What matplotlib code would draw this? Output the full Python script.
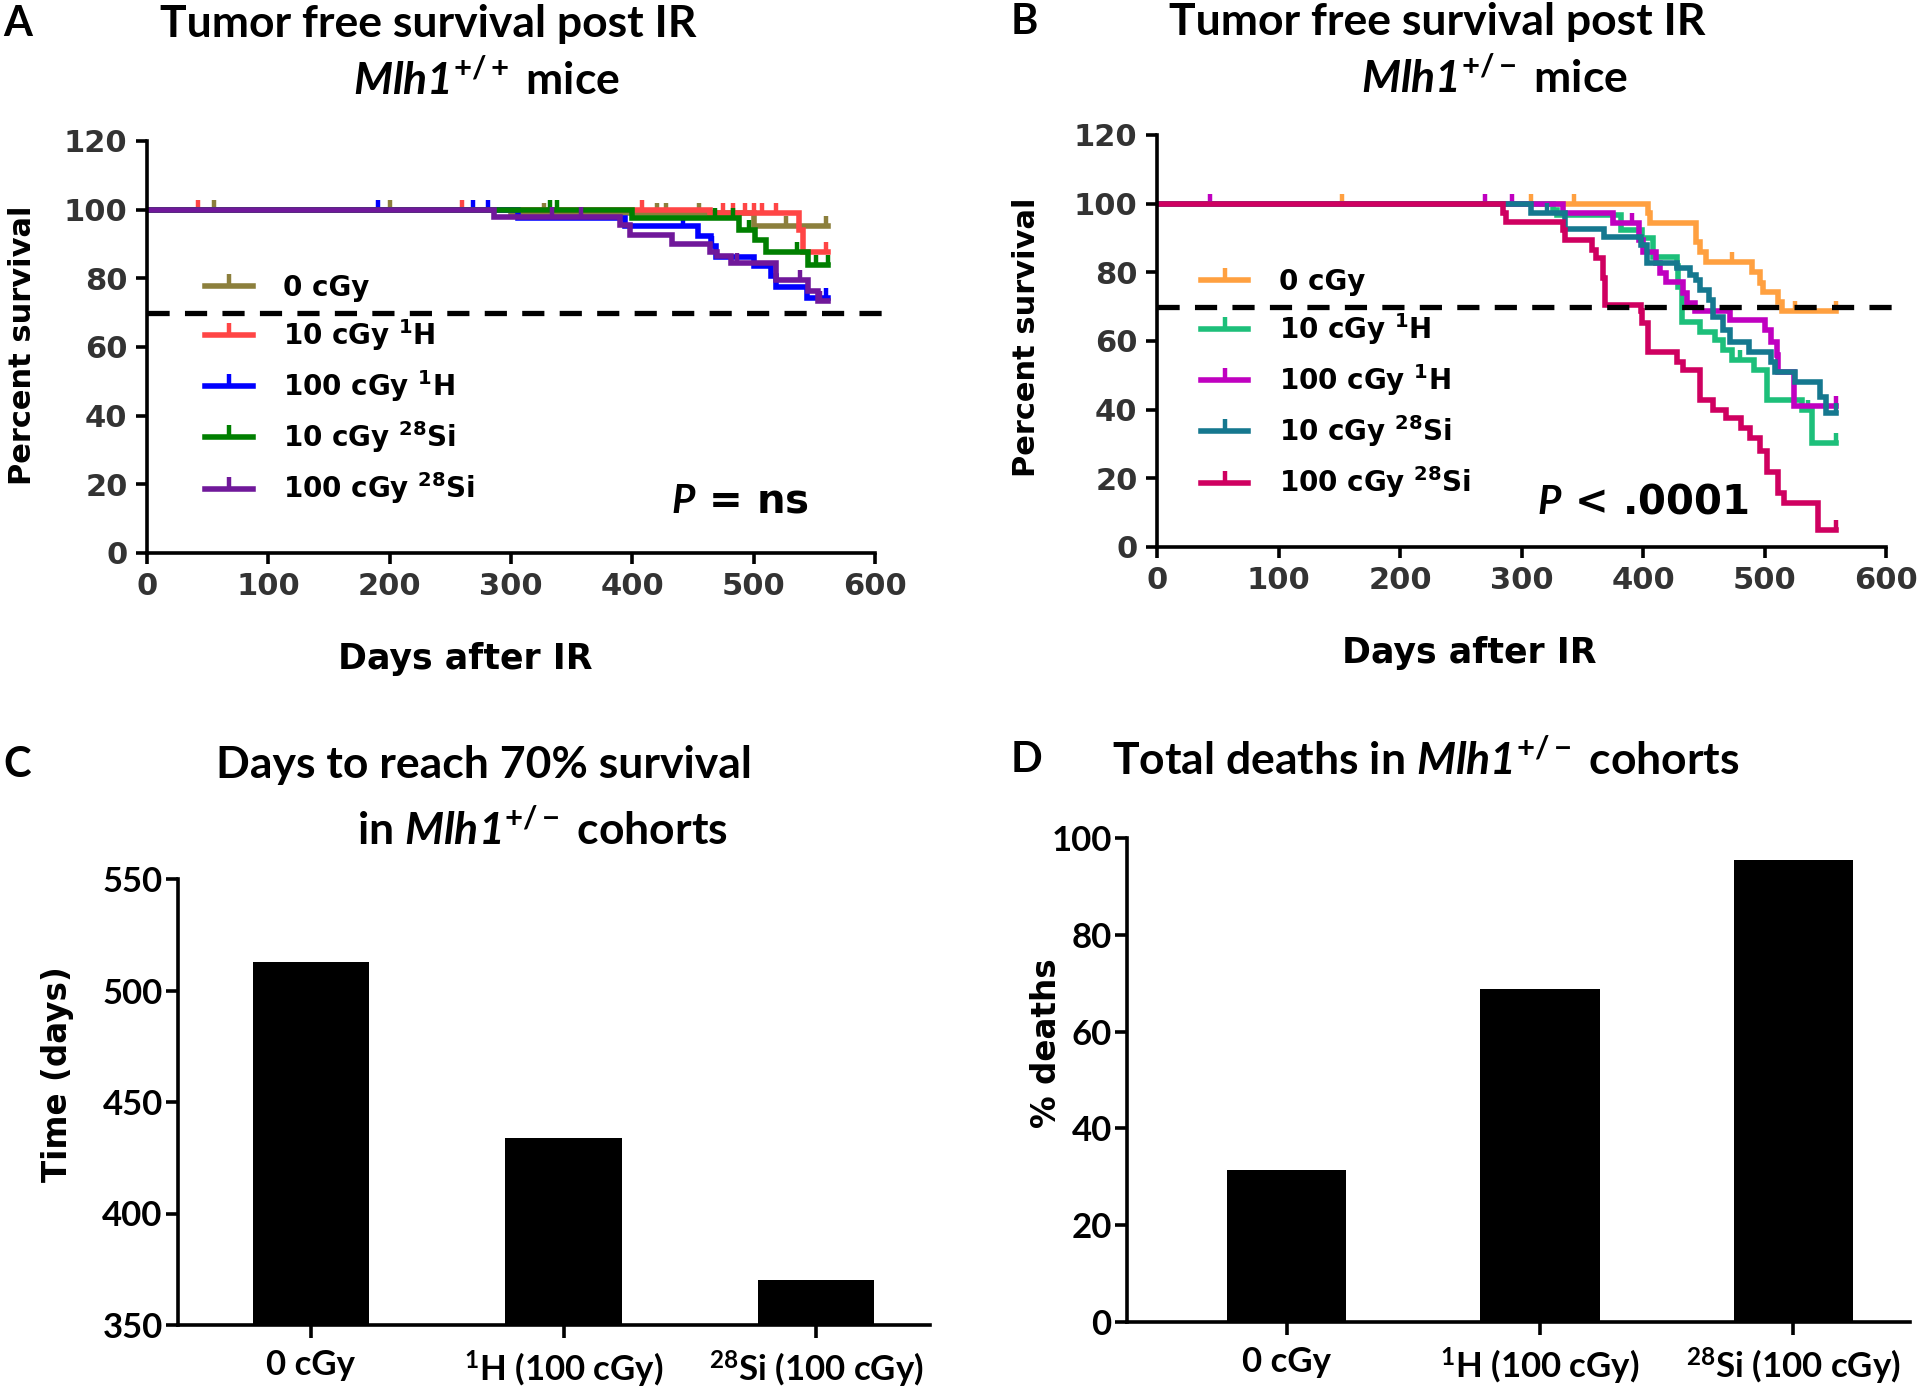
import numpy as np
import matplotlib
matplotlib.use('Agg')
import matplotlib.pyplot as plt
from matplotlib import font_manager
from matplotlib.path import Path

# pick a narrow bold font for the titles and the bar panels if one is installed
names = {f.name for f in font_manager.fontManager.ttflist}
cond = 'Liberation Sans Narrow' if 'Liberation Sans Narrow' in names else 'Lato'

plt.rcParams['font.family'] = 'DejaVu Sans'
plt.rcParams['font.weight'] = 'bold'
plt.rcParams['axes.labelweight'] = 'bold'
plt.rcParams['mathtext.fontset'] = 'custom'
plt.rcParams['mathtext.default'] = 'regular'
plt.rcParams['mathtext.it'] = cond + ':italic:bold'
plt.rcParams['mathtext.sf'] = cond + ':italic:bold'
plt.rcParams['mathtext.rm'] = cond + ':bold'
plt.rcParams['mathtext.bf'] = cond + ':bold'

# ---- Panel A: Mlh1+/+ survival (step times in days, percent survival) ----
a_labels = ['0 cGy', '10 cGy $^{1}$H', '100 cGy $^{1}$H', '10 cGy $^{28}$Si', '100 cGy $^{28}$Si']
a_colors = ['#8C7F3C', '#FF4545', '#0000FF', '#007F00', '#70189A']

a_0cgy_t = [0, 300, 500, 561]
a_0cgy_s = [100, 98.9, 95.1, 95.1]
a_0cgy_c = [55, 200, 327, 420, 428, 455, 527, 560]

a_10h_t = [0, 464, 537, 541, 561]
a_10h_s = [100, 99.0, 94.2, 87.8, 87.8]
a_10h_c = [42, 260, 408, 475, 483, 493, 500, 507, 518, 560]

a_100h_t = [0, 306, 394, 454, 465, 469, 500, 514, 518, 544, 561]
a_100h_s = [100, 97.5, 95.1, 92.2, 89.3, 86.2, 83.5, 80.6, 77.6, 74.3, 74.3]
a_100h_c = [190, 269, 281, 442, 466, 560]

a_10si_t = [0, 400, 488, 501, 510, 545, 561]
a_10si_s = [100, 97.6, 94.2, 91.3, 87.8, 84.0, 84.0]
a_10si_c = [332, 338, 468, 483, 496, 536, 551, 561]

a_100si_t = [0, 286, 390, 398, 433, 464, 470, 481, 518, 545, 553, 561]
a_100si_s = [100, 98.0, 95.6, 92.7, 90.1, 87.8, 86.4, 84.6, 79.6, 76.2, 73.3, 73.3]
a_100si_c = [334, 358, 486, 538, 555]

# ---- Panel B: Mlh1+/- survival ----
b_labels = a_labels
b_colors = ['#FFA040', '#1DBF7A', '#C000C0', '#15788F', '#CF0060']

b_0cgy_t = [0, 404, 406, 444, 447, 452, 490, 496, 499, 511, 514, 559]
b_0cgy_s = [100, 97.2, 94.3, 88.9, 86.0, 83.1, 80.2, 76.8, 74.4, 71.5, 68.6, 68.6]
b_0cgy_c = [152, 308, 343, 473, 525, 559]

b_10h_t = [0, 326, 329, 382, 399, 408, 428, 429, 432, 447, 459, 466, 473, 491, 502, 531, 539, 559]
b_10h_s = [100, 98.1, 96.6, 92.3, 89.9, 84.6, 81.7, 75.8, 65.6, 62.7, 60.3, 57.4, 54.5, 51.5,
           42.8, 39.9, 30.2, 30.2]
b_10h_c = [480, 536, 559]

b_100h_t = [0, 334, 375, 397, 400, 411, 414, 419, 433, 436, 443, 472, 500, 505, 510, 511, 524, 559]
b_100h_s = [100, 97.2, 94.3, 89.4, 86.0, 82.6, 79.7, 77.3, 73.9, 71.0, 68.6, 66.1, 63.2, 59.8,
            56.0, 51.1, 41.0, 41.0]
b_100h_c = [44, 270, 292, 375, 391, 559]

b_10si_t = [0, 308, 336, 368, 398, 403, 428, 439, 444, 447, 454, 458, 466, 472, 487, 505, 509,
            525, 546, 551, 559]
b_10si_s = [100, 97.2, 92.7, 90.4, 88.0, 82.6, 81.2, 79.2, 77.8, 74.9, 71.9, 67.1, 63.2, 59.8,
            56.9, 54.0, 51.1, 48.2, 43.8, 38.9, 38.9]
b_10si_c = [321, 559]

b_100si_t = [0, 285, 287, 334, 336, 358, 361, 367, 369, 398, 399, 404, 428, 433, 447, 458, 468,
             481, 488, 496, 502, 511, 516, 544, 559]
b_100si_s = [100, 97.2, 94.8, 92.3, 89.4, 86.5, 84.1, 78.3, 70.5, 68.6, 65.1, 56.9, 54.0, 51.5,
             42.8, 39.9, 37.5, 34.6, 31.8, 27.9, 21.9, 15.6, 12.7, 5.0, 5.0]
b_100si_c = [559]

# ---- Panels C and D: bar charts ----
bar_labels = ['0 cGy', '$^{1}$H (100 cGy)', '$^{28}$Si (100 cGy)']
days_to_70 = [513, 434, 370]
pct_deaths = [31.5, 68.8, 95.5]

a_series = [(a_0cgy_t, a_0cgy_s, a_0cgy_c), (a_10h_t, a_10h_s, a_10h_c),
            (a_100h_t, a_100h_s, a_100h_c), (a_10si_t, a_10si_s, a_10si_c),
            (a_100si_t, a_100si_s, a_100si_c)]
b_series = [(b_0cgy_t, b_0cgy_s, b_0cgy_c), (b_10h_t, b_10h_s, b_10h_c),
            (b_100h_t, b_100h_s, b_100h_c), (b_10si_t, b_10si_s, b_10si_c),
            (b_100si_t, b_100si_s, b_100si_c)]

# upward censor tick
tick_up = Path([(0, 0), (0, 1)], [Path.MOVETO, Path.LINETO])

fig = plt.figure(figsize=(19.2, 13.92), dpi=100)
W, H = 1920.0, 1392.0


def km_panel(rect, series, labels, colors, ptext, ppos, leg_anchor, xlab_pos, ylab_pos):
    ax = fig.add_axes(rect)
    for (t, s, c), lab, col in zip(series, labels, colors):
        ax.step(t, s, where='post', color=col, lw=4.0, solid_joinstyle='miter')
        idx = np.searchsorted(t, c, side='right') - 1
        ax.plot(c, np.array(s)[idx], ls='none', marker=tick_up, ms=15, mew=3.2, color=col)
        ax.plot([], [], color=col, lw=4.0, marker=tick_up, ms=17, mew=3.2, label=lab)
    ax.axhline(70, color='black', lw=3.8, dashes=(4.2, 2.9), clip_on=False, xmax=1.01)
    ax.set_xlim(0, 600)
    ax.set_ylim(0, 120)
    ax.set_xticks(range(0, 601, 100))
    ax.set_yticks(range(0, 121, 20))
    for sp in ['top', 'right']:
        ax.spines[sp].set_visible(False)
    for sp in ['left', 'bottom']:
        ax.spines[sp].set_linewidth(2.6)
    ax.tick_params(width=2.6, length=8, labelsize=22, pad=6, colors='black',
                   labelcolor='#333333')
    ax.set_xlabel('Days after IR', fontsize=25)
    ax.set_ylabel('Percent survival', fontsize=22)
    ax.xaxis.set_label_coords(*xlab_pos)
    ax.yaxis.set_label_coords(*ylab_pos)
    ax.legend(loc='upper left', bbox_to_anchor=leg_anchor, frameon=False, fontsize=20,
              handlelength=1.7, handletextpad=1.1, labelspacing=0.55, numpoints=1,
              borderaxespad=0)
    ax.text(ppos[0], ppos[1], ptext, fontsize=29, ha='left', va='center')
    return ax


km_panel([147 / W, 1 - 553 / H, 728 / W, 412 / H], a_series, a_labels, a_colors,
         '$\\mathsf{P}$ = ns', (432, 15), (0.065, 0.705), (0.437, -0.215), (-0.151, 0.505))
km_panel([1157 / W, 1 - 547 / H, 729 / W, 412 / H], b_series, b_labels, b_colors,
         '$\\mathsf{P}$ < .0001', (313, 13), (0.045, 0.705), (0.428, -0.215), (-0.159, 0.51))


def bar_panel(rect, vals, ylim, yticks, ylabel, xlim, width, ylab_pos):
    ax = fig.add_axes(rect)
    ax.bar(range(len(vals)), vals, width=width, color='black')
    ax.set_ylim(*ylim)
    ax.set_xlim(*xlim)
    ax.set_yticks(yticks)
    ax.set_xticks(range(len(vals)))
    ax.set_xticklabels(bar_labels, fontfamily=cond, fontsize=25)
    for lab in ax.get_yticklabels():
        lab.set_fontfamily(cond)
        lab.set_fontsize(25)
    for sp in ['top', 'right']:
        ax.spines[sp].set_visible(False)
    for sp in ['left', 'bottom']:
        ax.spines[sp].set_linewidth(2.6)
    ax.tick_params(width=2.6, length=9)
    ax.tick_params(axis='y', pad=2)
    ax.tick_params(axis='x', pad=8)
    ax.set_ylabel(ylabel, fontsize=23.5)
    ax.yaxis.set_label_coords(*ylab_pos)
    return ax


bar_panel([178 / W, 1 - 1325 / H, 752 / W, 446 / H], days_to_70, (350, 550),
          range(350, 551, 50), 'Time (days)', (-0.526, 2.45), 0.46, (-0.138, 0.563))
bar_panel([1127 / W, 1 - 1322 / H, 783 / W, 484 / H], pct_deaths, (0, 100),
          range(0, 101, 20), '% deaths', (-0.63, 2.46), 0.47, (-0.082, 0.576))

# panel letters and titles
tkw = dict(fontfamily=cond, fontsize=32, ha='center', va='center')
for letter, x, y in [('A', 3, 24), ('B', 1011, 22), ('C', 3, 765), ('D', 1011, 760)]:
    fig.text(x / W, 1 - y / H, letter, fontfamily=cond, fontsize=30, ha='left', va='center')
fig.text(428 / W, 1 - 24 / H, 'Tumor free survival post IR', **tkw)
fig.text(486 / W, 1 - 80 / H, '$\\mathsf{Mlh1}^{+/+}$ mice', **tkw)
fig.text(1437 / W, 1 - 22 / H, 'Tumor free survival post IR', **tkw)
fig.text(1494 / W, 1 - 78 / H, '$\\mathsf{Mlh1}^{+/-}$ mice', **tkw)
fig.text(484 / W, 1 - 765 / H, 'Days to reach 70% survival', **tkw)
fig.text(542 / W, 1 - 830 / H, 'in $\\mathsf{Mlh1}^{+/-}$ cohorts', **tkw)
fig.text(1426 / W, 1 - 760 / H, 'Total deaths in $\\mathsf{Mlh1}^{+/-}$ cohorts', **tkw)

plt.savefig('out.png', dpi=100)
